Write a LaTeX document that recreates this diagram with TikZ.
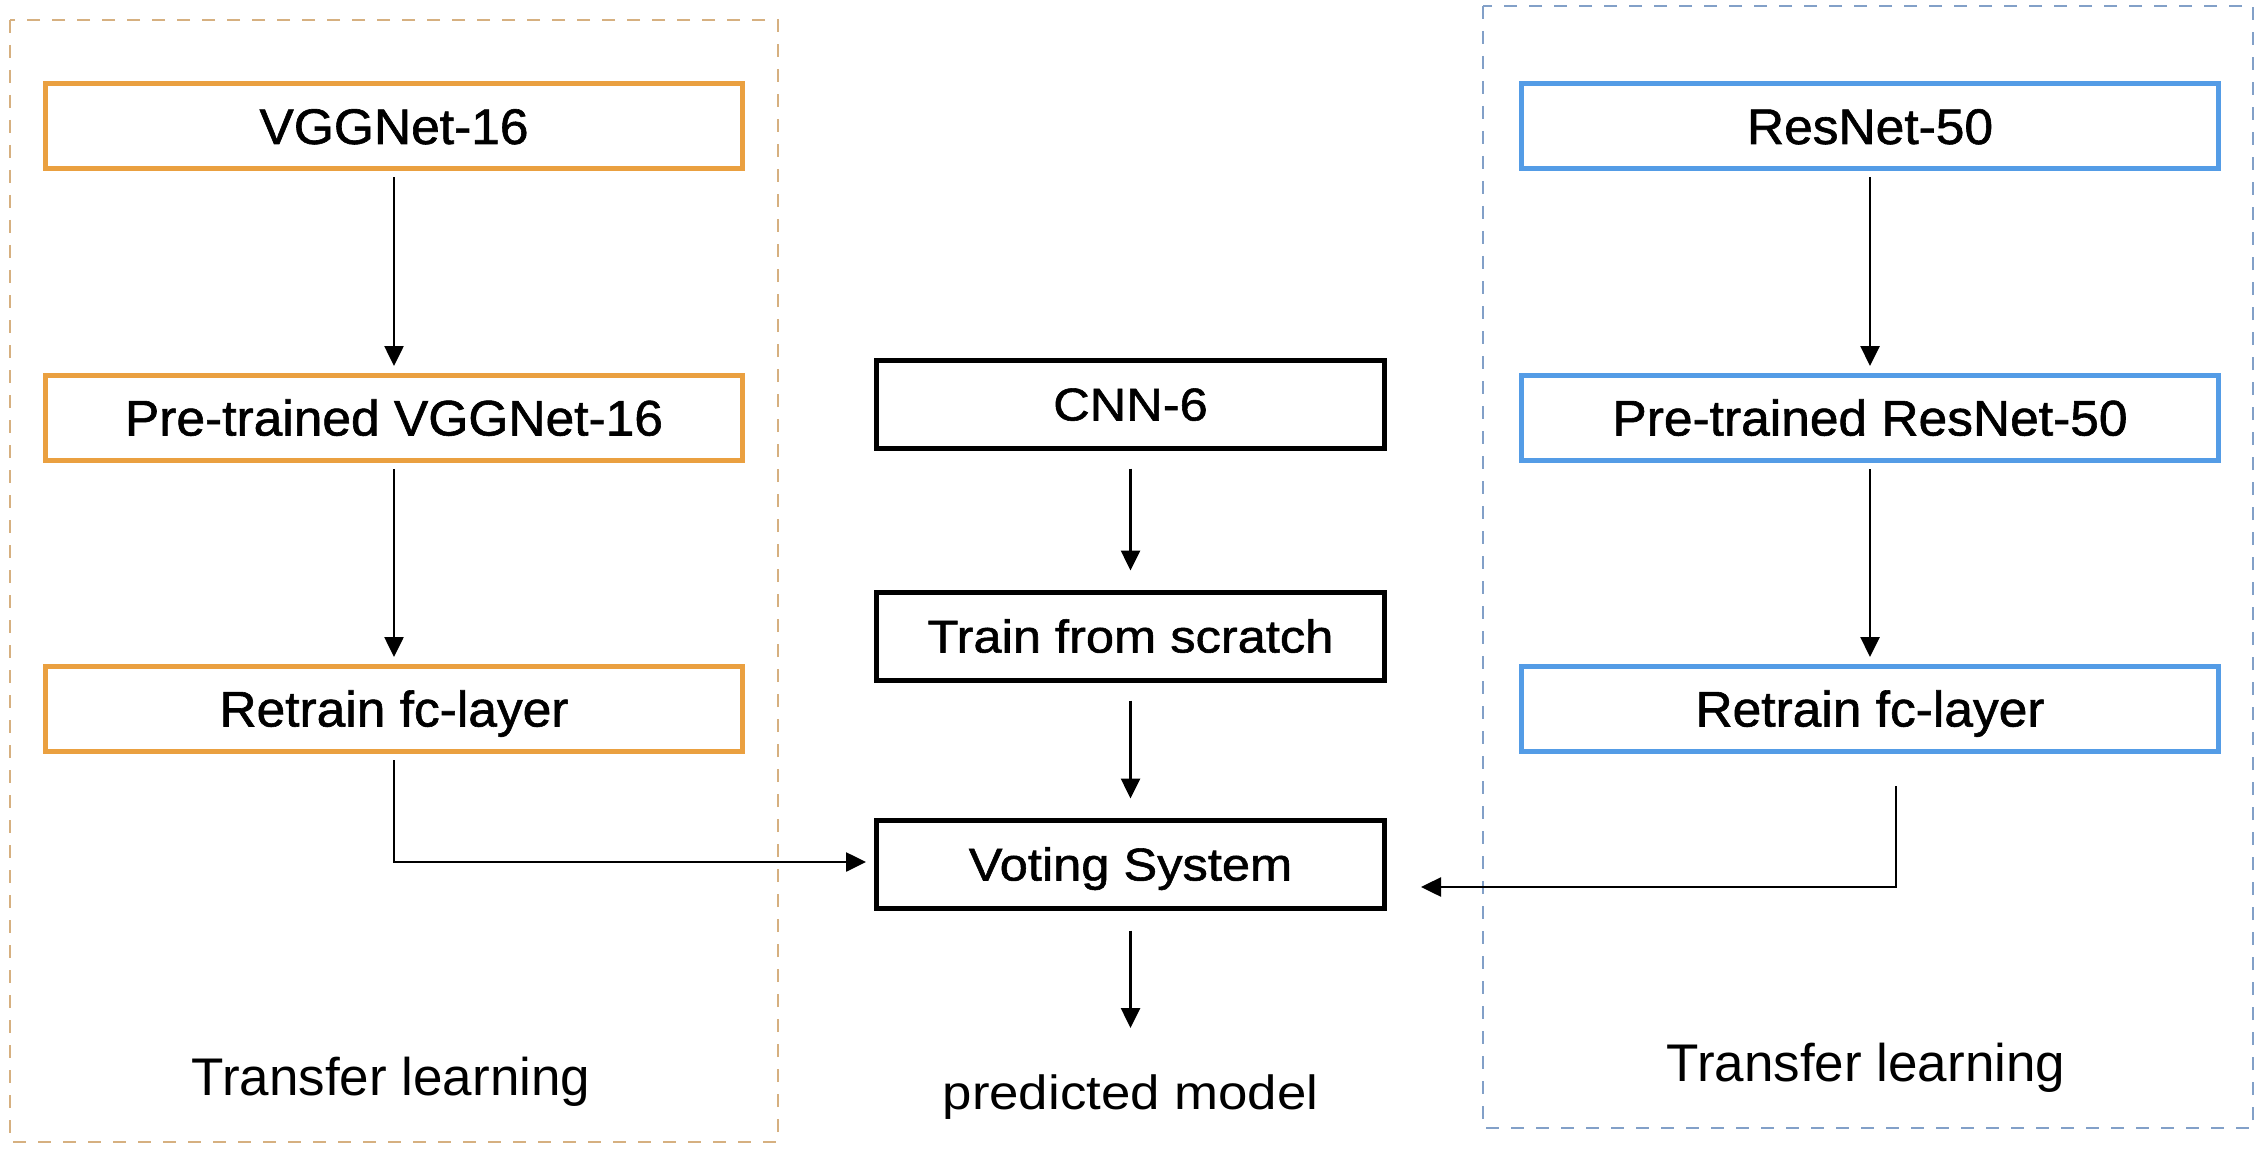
\documentclass[tikz,border=0pt]{standalone}
\usepackage{fontspec}
\setmainfont{Liberation Sans}
\newfontfamily\boxfont[FakeStretch=1.03,FakeBold=1.2]{Liberation Sans}
\newfontfamily\widefont[FakeStretch=1.1,FakeBold=1.2]{Liberation Sans}
\newfontfamily\predfont[FakeStretch=1.1]{Liberation Sans}
\usetikzlibrary{arrows.meta}
\definecolor{orangebox}{RGB}{234,160,64}
\definecolor{bluebox}{RGB}{84,156,230}
\definecolor{tandash}{RGB}{214,176,128}
\definecolor{bluedash}{RGB}{130,160,200}
\tikzset{
  obox/.style={draw=orangebox, line width=5pt, minimum width=697pt, minimum height=85pt,
    inner sep=0pt, text height=35pt, text depth=0pt, font=\boxfont\fontsize{50}{60}\selectfont},
  bbox/.style={obox, draw=bluebox},
  kbox/.style={draw=black, line width=5pt, minimum width=508pt, minimum height=88pt,
    inner sep=0pt, text height=33pt, text depth=0pt, font=\widefont\fontsize{46}{55}\selectfont},
  arr/.style={line width=2.6pt, -{Triangle[length=20pt,width=19pt]}},
  tlabel/.style={font=\fontsize{53}{64}\selectfont, inner sep=0pt, text height=38pt, text depth=0pt},
  plabel/.style={font=\predfont\fontsize{48}{58}\selectfont, inner sep=0pt, anchor=base},
  groupbox/.style={line width=1.8pt, dash pattern=on 13pt off 12pt},
}
\begin{document}
\begin{tikzpicture}[x=1pt,y=-1pt]
\fill[white] (0,0) rectangle (2258,1150);
\useasboundingbox (0,0) rectangle (2258,1150);

% group frames
\draw[groupbox, draw=tandash] (10,20) rectangle (778,1142);
\draw[groupbox, draw=bluedash] (1483,6) rectangle (2253,1128);

% left column
\node[obox] (vgg) at (394,126.5) {VGGNet-16};
\node[obox] (prevgg) at (394,418) {Pre-trained VGGNet-16};
\node[obox] (retvgg) at (394,709) {Retrain fc-layer};
\node[tlabel] (tl1) at (391,1076) {Transfer learning};

% right column
\node[bbox] (res) at (1870,126.5) {ResNet-50};
\node[bbox] (preres) at (1870,418) {Pre-trained ResNet-50};
\node[bbox] (retres) at (1870,709) {Retrain fc-layer};
\node[tlabel] (tl2) at (1866,1062) {Transfer learning};

% middle column
\node[kbox] (cnn) at (1130.5,404) {CNN-6};
\node[kbox] (train) at (1130.5,636) {Train from scratch};
\node[kbox] (vote) at (1130.5,864) {Voting System};
\node[plabel] (pred) at (1130.5,1109) {predicted model};
\coordinate (predtop) at (1130.5,1028);

% connectors
\draw[arr, shorten <=6pt, shorten >=7pt] (vgg) -- (prevgg);
\draw[arr, shorten <=6pt, shorten >=7pt] (prevgg) -- (retvgg);
\draw[arr, shorten <=6pt, shorten >=7pt] (res) -- (preres);
\draw[arr, shorten <=6pt, shorten >=7pt] (preres) -- (retres);
\draw[arr, shorten <=18pt, shorten >=19pt] (cnn) -- (train);
\draw[arr, shorten <=18pt, shorten >=19pt] (train) -- (vote);
\draw[arr, shorten <=20pt] (vote) -- (predtop);
\draw[arr, shorten <=6pt, shorten >=8pt] (retvgg.south) |- ([yshift=2pt]vote.west);
\draw[arr, shorten >=34pt] ([xshift=26pt,yshift=-32pt]retres.south) |- ([yshift=-23pt]vote.east);
\end{tikzpicture}
\end{document}
